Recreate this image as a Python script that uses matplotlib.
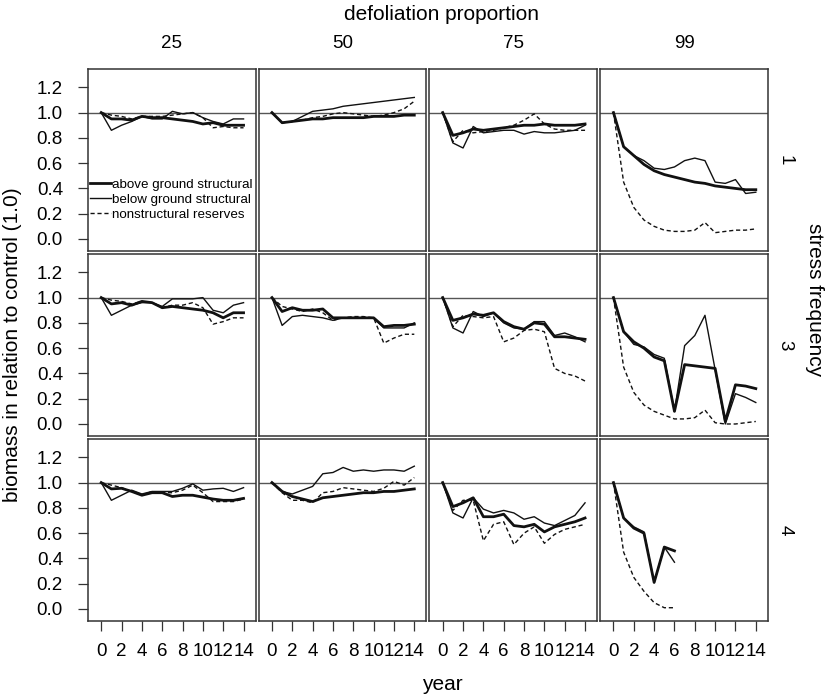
import matplotlib
matplotlib.use('Agg')
from matplotlib import pyplot as plt

plt.rcParams['font.family'] = ['Liberation Sans', 'DejaVu Sans']

years = list(range(15))
defoliation = ['25', '50', '75', '99']
frequency = ['1', '3', '4']
series_labels = ['above ground structural', 'below ground structural',
                 'nonstructural reserves']

# rows: stress frequency 1, 3, 4; columns: defoliation 25, 50, 75, 99
above_ground = [
    [[1.0, 0.95, 0.95, 0.94, 0.97, 0.96, 0.96, 0.95, 0.94, 0.93, 0.91, 0.92, 0.90, 0.90, 0.90],
     [1.0, 0.92, 0.93, 0.94, 0.95, 0.95, 0.96, 0.96, 0.96, 0.96, 0.97, 0.97, 0.97, 0.98, 0.98],
     [1.0, 0.82, 0.84, 0.87, 0.86, 0.87, 0.88, 0.89, 0.90, 0.90, 0.91, 0.90, 0.90, 0.90, 0.91],
     [1.0, 0.73, 0.66, 0.59, 0.54, 0.51, 0.49, 0.47, 0.45, 0.44, 0.42, 0.41, 0.40, 0.39, 0.39]],
    [[1.0, 0.95, 0.96, 0.94, 0.97, 0.96, 0.92, 0.93, 0.92, 0.91, 0.90, 0.88, 0.84, 0.88, 0.88],
     [1.0, 0.89, 0.92, 0.90, 0.90, 0.91, 0.84, 0.84, 0.84, 0.84, 0.84, 0.77, 0.78, 0.78, 0.79],
     [1.0, 0.82, 0.84, 0.87, 0.86, 0.88, 0.81, 0.77, 0.75, 0.80, 0.79, 0.69, 0.69, 0.68, 0.67],
     [1.0, 0.73, 0.65, 0.60, 0.53, 0.50, 0.10, 0.47, 0.46, 0.45, 0.44, 0.02, 0.31, 0.30, 0.28]],
    [[1.0, 0.95, 0.955, 0.93, 0.90, 0.92, 0.92, 0.89, 0.90, 0.90, 0.885, 0.87, 0.86, 0.86, 0.875],
     [1.0, 0.93, 0.89, 0.87, 0.85, 0.88, 0.89, 0.90, 0.91, 0.92, 0.92, 0.93, 0.93, 0.94, 0.95],
     [1.0, 0.81, 0.84, 0.88, 0.73, 0.73, 0.75, 0.66, 0.65, 0.67, 0.61, 0.65, 0.67, 0.69, 0.72],
     [1.0, 0.72, 0.64, 0.60, 0.21, 0.49, 0.46]],
]

below_ground = [
    [[1.0, 0.86, 0.90, 0.93, 0.97, 0.95, 0.95, 1.01, 0.99, 1.00, 0.96, 0.93, 0.91, 0.95, 0.95],
     [1.0, 0.92, 0.93, 0.97, 1.01, 1.02, 1.03, 1.05, 1.06, 1.07, 1.08, 1.09, 1.10, 1.11, 1.12],
     [1.0, 0.76, 0.72, 0.89, 0.84, 0.85, 0.86, 0.86, 0.83, 0.85, 0.84, 0.84, 0.85, 0.86, 0.90],
     [1.0, 0.73, 0.66, 0.62, 0.56, 0.55, 0.57, 0.62, 0.64, 0.62, 0.45, 0.44, 0.47, 0.36, 0.37]],
    [[1.0, 0.86, 0.90, 0.94, 0.96, 0.96, 0.93, 0.99, 0.99, 0.99, 1.00, 0.90, 0.88, 0.94, 0.96],
     [1.0, 0.78, 0.85, 0.86, 0.85, 0.84, 0.82, 0.84, 0.84, 0.84, 0.84, 0.76, 0.76, 0.76, 0.80],
     [1.0, 0.76, 0.72, 0.89, 0.85, 0.88, 0.80, 0.76, 0.75, 0.81, 0.81, 0.70, 0.72, 0.69, 0.65],
     [1.0, 0.73, 0.63, 0.61, 0.55, 0.52, 0.10, 0.62, 0.70, 0.86, 0.43, 0.00, 0.24, 0.21, 0.17]],
    [[1.0, 0.86, 0.90, 0.94, 0.91, 0.93, 0.93, 0.93, 0.955, 0.99, 0.94, 0.95, 0.955, 0.93, 0.96],
     [1.0, 0.93, 0.91, 0.94, 0.97, 1.07, 1.08, 1.12, 1.09, 1.10, 1.09, 1.10, 1.10, 1.09, 1.13],
     [1.0, 0.76, 0.72, 0.88, 0.79, 0.76, 0.78, 0.76, 0.71, 0.73, 0.68, 0.66, 0.70, 0.74, 0.84],
     [1.0, 0.72, 0.65, 0.61, 0.21, 0.49, 0.37]],
]

reserves = [
    [[1.0, 0.98, 0.97, 0.95, 0.97, 0.97, 0.97, 0.98, 0.99, 1.00, 0.96, 0.88, 0.89, 0.88, 0.88],
     [1.0, 0.92, 0.93, 0.94, 0.96, 0.97, 0.99, 1.00, 0.99, 0.98, 0.97, 0.98, 1.00, 1.03, 1.09],
     [1.0, 0.77, 0.86, 0.84, 0.85, 0.86, 0.88, 0.90, 0.94, 0.99, 0.91, 0.87, 0.86, 0.86, 0.86],
     [1.0, 0.45, 0.25, 0.15, 0.10, 0.07, 0.06, 0.06, 0.07, 0.13, 0.05, 0.06, 0.07, 0.07, 0.08]],
    [[1.0, 0.98, 0.97, 0.95, 0.97, 0.96, 0.92, 0.94, 0.94, 0.96, 0.92, 0.79, 0.81, 0.84, 0.84],
     [1.0, 0.93, 0.91, 0.89, 0.91, 0.88, 0.82, 0.84, 0.85, 0.85, 0.84, 0.64, 0.68, 0.71, 0.71],
     [1.0, 0.77, 0.86, 0.85, 0.84, 0.85, 0.65, 0.68, 0.74, 0.75, 0.73, 0.44, 0.40, 0.38, 0.34],
     [1.0, 0.45, 0.25, 0.15, 0.10, 0.07, 0.04, 0.04, 0.05, 0.11, 0.01, 0.00, 0.00, 0.01, 0.02]],
    [[1.0, 0.98, 0.96, 0.93, 0.90, 0.93, 0.92, 0.92, 0.94, 0.98, 0.92, 0.85, 0.85, 0.85, 0.87],
     [1.0, 0.92, 0.86, 0.86, 0.84, 0.92, 0.93, 0.96, 0.95, 0.94, 0.93, 0.955, 1.01, 0.98, 1.04],
     [1.0, 0.78, 0.86, 0.86, 0.54, 0.67, 0.69, 0.51, 0.60, 0.65, 0.52, 0.59, 0.63, 0.65, 0.67],
     [1.0, 0.45, 0.25, 0.14, 0.05, 0.01, 0.01]],
]

yticks = [0.0, 0.2, 0.4, 0.6, 0.8, 1.0, 1.2]
xticks = [0, 2, 4, 6, 8, 10, 12, 14]

W, H = 829, 697
fig = plt.figure(figsize=(W / 100, H / 100), dpi=100)

# panel grid in pixels
left, right, top, bottom = 88, 768, 69, 621
gap = 3
pw = (right - left - 3 * gap) / 4
ph = (bottom - top - 2 * gap) / 3
ylo, yhi = -0.095, 1.345

styles = [dict(lw=2.0, ls='-'), dict(lw=1.0, ls='-'), dict(lw=1.0, ls=(0, (3, 2)))]
frame_col = '#333333'
tick_fs = 13.5

for r in range(3):
    for c in range(4):
        x0 = left + c * (pw + gap)
        y0 = top + r * (ph + gap)
        ax = fig.add_axes([x0 / W, 1 - (y0 + ph) / H, pw / W, ph / H])
        ax.set_xlim(-1.3, 15.2)
        ax.set_ylim(ylo, yhi)
        ax.axhline(1.0, color='#555555', lw=1.0)
        for data, st in zip([above_ground, below_ground, reserves], styles):
            vals = data[r][c]
            ax.plot(years[:len(vals)], vals, color='#111111', **st)
        for sp in ax.spines.values():
            sp.set_color(frame_col)
            sp.set_linewidth(1.1)
        ax.tick_params(direction='out', length=7, width=0.9, color='#333333',
                       labelsize=tick_fs)
        ax.tick_params(axis='y', pad=11)
        ax.tick_params(axis='x', pad=9)
        ax.set_yticks(yticks)
        ax.set_xticks(xticks)
        if c == 0:
            ax.set_yticklabels(['%.1f' % v for v in yticks])
        else:
            ax.tick_params(axis='y', left=False, labelleft=False)
        if r == 2:
            ax.set_xticklabels([str(v) for v in xticks])
        else:
            ax.tick_params(axis='x', bottom=False, labelbottom=False)
        if r == 0:
            ax.text(0.5, 1 + 26 / ph, defoliation[c], transform=ax.transAxes,
                    ha='center', va='center', fontsize=tick_fs)
        if c == 3:
            ax.text(1 + 17 / pw, 0.5, frequency[r], transform=ax.transAxes,
                    ha='center', va='center', fontsize=tick_fs, rotation=-90)
        if r == 0 and c == 0:
            handles = ax.get_lines()[1:]
            ax.legend(handles, series_labels, loc='center left',
                      bbox_to_anchor=(0.012, (0.31 - ylo) / (yhi - ylo)),
                      frameon=False, fontsize=9.6, handlelength=1.55,
                      handletextpad=0.12, labelspacing=0.2,
                      borderaxespad=0, borderpad=0)

fig.text(442 / W, 1 - 14 / H, 'defoliation proportion', ha='center',
         va='center', fontsize=15)
fig.text(442 / W, 1 - 685 / H, 'year', ha='center', va='center', fontsize=15)
fig.text(13 / W, 1 - 345 / H, 'biomass in relation to control (1.0)',
         ha='center', va='center', rotation=90, fontsize=15)
fig.text(815 / W, 1 - 300 / H, 'stress frequency', ha='center', va='center',
         rotation=-90, fontsize=15)

fig.savefig('out.png', dpi=100)
